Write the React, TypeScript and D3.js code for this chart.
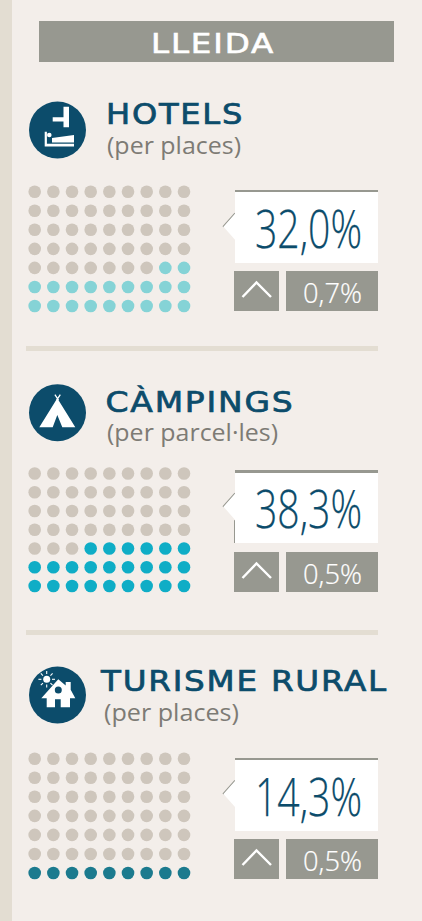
import React from "react";
import * as d3 from "d3";

const regionTitle = "LLEIDA";
const titles = ["HOTELS", "CÀMPINGS", "TURISME RURAL"];
const subtitles = ["(per places)", "(per parcel·les)", "(per places)"];
const shares = ["32,0%", "38,3%", "14,3%"];
const changes = ["0,7%", "0,5%", "0,5%"];
const filledDots = [20, 24, 9];
const dotColors = ["#85d3d6", "#0fadc6", "#1b7a8e"];

const COLS = 9;
const ROWS = 7;
const NAVY = "#0c4c6b";
const GREY = "#979890";
const BG = "#f3eeea";
const STRIP = "#e3ddd2";
const EMPTY = "#cec6bc";

const layout = [
  { dotTop: 191.7, dotBottom: 306, box: 190, border: 2, notch: 226.7, chg: 271, cy: 130, tx: 106, tw: 138, tb: 124, sx: 107, sw: 134, sb: 153.5, vb: 248, edge: false },
  { dotTop: 473.5, dotBottom: 586, box: 470, border: 3, notch: 506.7, chg: 552, cy: 412.7, tx: 105.5, tw: 189, tb: 412, sx: 107, sw: 171, sb: 441, vb: 528, edge: true },
  { dotTop: 758.7, dotBottom: 873, box: 758, border: 2, notch: 794, chg: 839, cy: 695, tx: 101, tw: 287, tb: 691, sx: 104, sw: 135, sb: 721, vb: 816, edge: false },
];
const dividers = [346, 630];

const xScale = d3.scaleLinear().domain([0, COLS - 1]).range([34.7, 184]);

function HotelIcon() {
  return (
    <g fill="#fff">
      <path d="M6 -23.3H11.5V-2.7H6V-8.4H-4.8V-12.7H6Z" />
      <path d="M-12.8 1.7H-10.6V13.8H16.5V16.4H-12.8Z" />
      <path d="M-5.5 8L16.5 5V12.4H-5.5Z" />
      <circle cx={-8.2} cy={5} r={2.3} />
    </g>
  );
}

function TentIcon() {
  return (
    <g>
      <path d="M-0.2 -14.4L17.8 14.6H4.8L-0.2 2.3L-4.8 14.6H-18.2Z" fill="#fff" />
      <path d="M-2.6 -18L1 -12.5M2.8 -18L-0.8 -12.5" stroke="#fff" strokeWidth={1.3} fill="none" />
    </g>
  );
}

function HouseIcon() {
  const rays = d3.range(8).map((i) => (i * Math.PI) / 4);
  return (
    <g>
      <path
        d="M0.8 -15.7L8.2 -9.5V-13H13.2V-5.2L17.8 3.3H12.5V12.3H3.2V4.3H-2.5V12.3H-10.8V3.3H-16.2Z"
        fill="#fff"
      />
      <circle cx={0.8} cy={-5} r={3.5} fill={NAVY} />
      <circle cx={-10.8} cy={-15.7} r={3.5} fill="#fff" />
      {rays.map((a, i) => (
        <line
          key={i}
          x1={-10.8 + 5.3 * Math.cos(a)}
          y1={-15.7 + 5.3 * Math.sin(a)}
          x2={-10.8 + 8.3 * Math.cos(a)}
          y2={-15.7 + 8.3 * Math.sin(a)}
          stroke="#fff"
          strokeWidth={1.1}
        />
      ))}
    </g>
  );
}

const icons = [HotelIcon, TentIcon, HouseIcon];

function Section({ index }: { index: number }) {
  const l = layout[index];
  const Icon = icons[index];
  const yScale = d3.scaleLinear().domain([0, ROWS - 1]).range([l.dotTop, l.dotBottom]);
  const total = COLS * ROWS;
  const cells = d3.range(total);
  return (
    <g>
      <g transform={`translate(57.5,${l.cy})`}>
        <circle r={28.5} fill={NAVY} />
        <Icon />
      </g>
      <text
        x={l.tx}
        y={l.tb}
        textLength={l.tw}
        lengthAdjust="spacingAndGlyphs"
        fontFamily="'DejaVu Sans', sans-serif"
        fontSize={27.5}
        letterSpacing={1.5}
        stroke={NAVY}
        strokeWidth={0.7}
        fill={NAVY}
      >
        {titles[index]}
      </text>
      <text
        x={l.sx}
        y={l.sb}
        textLength={l.sw}
        lengthAdjust="spacingAndGlyphs"
        fontFamily="'Open Sans', sans-serif"
        fontSize={24}
        fill="#7d7b75"
      >
        {subtitles[index]}
      </text>
      {cells.map((i) => {
        const row = Math.floor(i / COLS);
        const col = i % COLS;
        const filled = total - 1 - i < filledDots[index];
        return (
          <circle key={i} cx={xScale(col)} cy={yScale(row)} r={6.3} fill={filled ? dotColors[index] : EMPTY} />
        );
      })}
      <line x1={235} y1={l.notch - 13.5} x2={223} y2={l.notch} stroke={GREY} strokeWidth={1.3} />
      {l.edge && <line x1={234.5} y1={l.notch + 13.5} x2={234.5} y2={l.vb + 15} stroke={GREY} strokeWidth={1} />}
      <rect x={235} y={l.box} width={143} height={l.vb + 15 - l.box} fill="#fff" />
      <path d={`M235 ${l.notch - 13}L223.5 ${l.notch}L235 ${l.notch + 13}Z`} fill="#fff" />
      <rect x={235} y={l.box} width={143} height={l.border} fill={GREY} />
      <text
        x={255}
        y={l.vb}
        textLength={107}
        lengthAdjust="spacingAndGlyphs"
        fontFamily="'Open Sans', sans-serif"
        fontWeight={300}
        fontSize={54}
        stroke={NAVY}
        strokeWidth={0.25}
        fill={NAVY}
      >
        {shares[index]}
      </text>
      <rect x={234} y={l.chg} width={45} height={40} fill={GREY} />
      <path
        d={`M242.5 ${l.chg + 26}L256.5 ${l.chg + 11.5}L271 ${l.chg + 26}`}
        fill="none"
        stroke="#fff"
        strokeWidth={2.4}
      />
      <rect x={286} y={l.chg} width={92} height={40} fill={GREY} />
      <text
        x={303}
        y={l.chg + 32}
        textLength={59}
        lengthAdjust="spacingAndGlyphs"
        fontFamily="'Open Sans', sans-serif"
        fontWeight={300}
        fontSize={27}
        stroke="#fff"
        strokeWidth={0.2}
        fill="#fff"
      >
        {changes[index]}
      </text>
    </g>
  );
}

export default function App() {
  return (
    <svg
      width={422}
      height={921}
      viewBox="0 0 422 921"
      style={{ position: "absolute", left: 0, top: 0, display: "block" }}
    >
      <rect width={422} height={921} fill={BG} />
      <rect width={12} height={921} fill={STRIP} />
      <rect x={39} y={21} width={355} height={41} fill={GREY} />
      <text
        x={151}
        y={53}
        textLength={124}
        lengthAdjust="spacingAndGlyphs"
        fontFamily="'DejaVu Sans', sans-serif"
        fontSize={27}
        letterSpacing={1.5}
        stroke="#fff"
        strokeWidth={0.6}
        fill="#fff"
      >
        {regionTitle}
      </text>
      {dividers.map((y) => (
        <rect key={y} x={26} y={y} width={352} height={5} fill={STRIP} />
      ))}
      {titles.map((_, i) => (
        <Section key={i} index={i} />
      ))}
    </svg>
  );
}
